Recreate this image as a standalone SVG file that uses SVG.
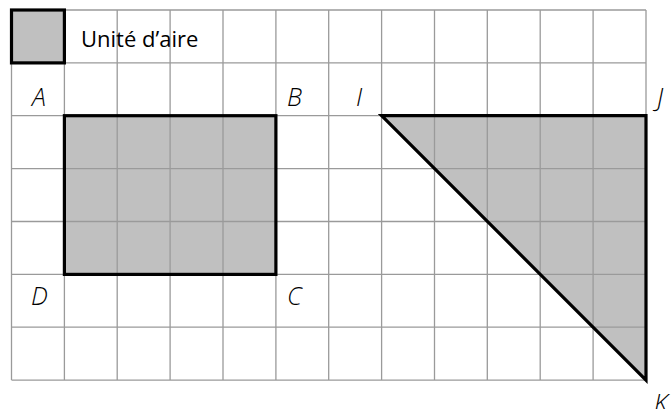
<svg xmlns="http://www.w3.org/2000/svg" width="672" height="409" viewBox="0 0 672 409">
<style>
.g{stroke:#9a9a9a;stroke-width:1.3;fill:none}
.s{fill:#c0c0c0;stroke:none}
.b{fill:none;stroke:#000;stroke-width:3.2;stroke-linejoin:miter}
.l{font-family:"Open Sans","Noto Sans",sans-serif;font-style:italic;font-weight:300;font-size:25px;fill:#000}
.t{font-family:"Open Sans","Noto Sans",sans-serif;font-size:22px;fill:#000}
</style>
<rect width="672" height="409" fill="#fff"/>
<g id="shading">
<rect class="s" x="11.5" y="10" width="52.9" height="52.9"/>
<rect class="s" x="64.4" y="115.7" width="211.5" height="158.7"/>
<polygon class="s" points="381.6,115.7 646,115.7 646,380.1"/>
</g>
<g id="grid">
<path class="g" d="M11.5 10V380.1M64.4 10V380.1M117.2 10V380.1M170.1 10V380.1M223 10V380.1M275.9 10V380.1M328.7 10V380.1M381.6 10V380.1M434.5 10V380.1M487.3 10V380.1M540.2 10V380.1M593.1 10V380.1M646 10V380.1"/>
<path class="g" d="M11.5 10H646M11.5 62.9H646M11.5 115.7H646M11.5 168.6H646M11.5 221.5H646M11.5 274.4H646M11.5 327.2H646M11.5 380.1H646"/>
</g>
<g id="unit">
<rect class="b" x="11.5" y="10" width="52.9" height="52.9"/>
<text class="t" x="81" y="47">Unité d’aire</text>
</g>
<g id="rectangle">
<rect class="b" x="64.4" y="115.7" width="211.5" height="158.7"/>
<text class="l" x="32" y="106">A</text>
<text class="l" x="287" y="106">B</text>
<text class="l" x="287" y="305">C</text>
<text class="l" x="31" y="305">D</text>
</g>
<g id="triangle">
<polygon class="b" points="381.6,115.7 646,115.7 646,380.1"/>
<text class="l" x="356" y="106">I</text>
<text class="l" x="657" y="106">J</text>
<text class="l" x="654" y="412">K</text>
</g>
</svg>
